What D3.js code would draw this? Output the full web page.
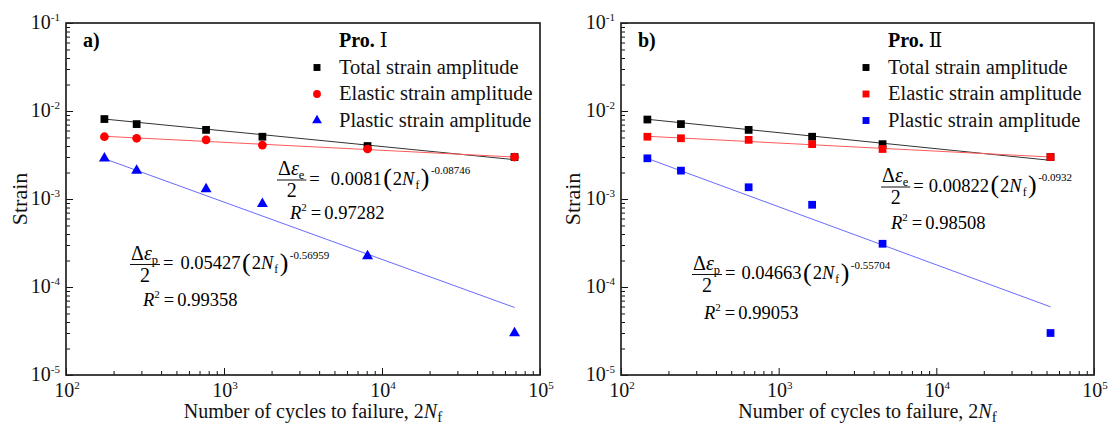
<!DOCTYPE html>
<html>
<head>
<meta charset="utf-8">
<script src="https://cdn.jsdelivr.net/npm/d3@7"></script>
<style>
  body { margin: 0; background: #fff; }
  svg { display: block; }
</style>
</head>
<body>
<svg id="chart" width="1110" height="428"></svg>
<script>
// ---- data: panel a) Pro. Ⅰ ----
const cyclesA  = [175, 280, 770, 1750, 8100, 69000];
const totalA   = [0.0081, 0.0071, 0.0061, 0.0051, 0.0040, 0.0030];
const elasticA = [0.0051, 0.0049, 0.0047, 0.0041, 0.0037, 0.0030];
const plasticA = [0.0029, 0.0021, 0.0013, 0.00088, 0.000225, 0.00003];

// ---- data: panel b) Pro. Ⅱ ----
const cyclesB  = [147, 240, 645, 1630, 4560, 53000];
const totalB   = [0.0080, 0.0071, 0.0061, 0.0051, 0.0042, 0.0030];
const elasticB = [0.0051, 0.0049, 0.0047, 0.0042, 0.0037, 0.0030];
const plasticB = [0.0029, 0.0021, 0.00136, 0.00086, 0.00031, 0.00003];

// fitted lines: strain at the first and the last cycle count
const fitTotalA   = [0.0081, 0.0028];
const fitElasticA = [0.00516, 0.0030];
const fitPlasticA = [0.00287, 0.0000585];
const fitTotalB   = [0.00805, 0.00275];
const fitElasticB = [0.00516, 0.0030];
const fitPlasticB = [0.00289, 0.0000595];

// fit equations: [elastic, plastic]
const eqCoefA = ["0.0081", "0.05427"];
const eqExpA  = ["-0.08746", "-0.56959"];
const eqR2A   = ["0.97282", "0.99358"];
const eqCoefB = ["0.00822", "0.04663"];
const eqExpB  = ["-0.0932", "-0.55704"];
const eqR2B   = ["0.98508", "0.99053"];

const seriesNames = ["Total strain amplitude", "Elastic strain amplitude", "Plastic strain amplitude"];
const panelTags   = ["a)", "b)"];
const panelTitles = ["Ⅰ", "Ⅱ"];
const xTickValues = [1e2, 1e3, 1e4, 1e5];
const yTickValues = [1e-5, 1e-4, 1e-3, 1e-2, 1e-1];
const xTitle = "Number of cycles to failure, ";
const yTitle = "Strain";

// ---- drawing ----
const SERIF = '"Liberation Serif", "Times New Roman", serif';
const svg = d3.select("#chart");
const plotTop = 23, plotBottom = 375;

const panels = [
  {
    left: 66, right: 540, tag: panelTags[0], title: panelTitles[0],
    cycles: cyclesA, series: [totalA, elasticA, plasticA],
    fits: [fitTotalA, fitElasticA, fitPlasticA],
    shapes: [d3.symbolSquare, d3.symbolCircle, d3.symbolTriangle],
    coef: eqCoefA, expo: eqExpA, r2: eqR2A,
    legendX: 317, eqE: {x: 277, bar: 180, rx: 290, ry: 218.5, gap: 11}, eqP: {x: 130, bar: 264.5, rx: 143, ry: 306, gap: 7},
    yTitleX: 27
  },
  {
    left: 621, right: 1094, tag: panelTags[1], title: panelTitles[1],
    cycles: cyclesB, series: [totalB, elasticB, plasticB],
    fits: [fitTotalB, fitElasticB, fitPlasticB],
    shapes: [d3.symbolSquare, d3.symbolSquare, d3.symbolSquare],
    coef: eqCoefB, expo: eqExpB, r2: eqR2B,
    legendX: 866, eqE: {x: 881, bar: 187, rx: 891, ry: 228.5, gap: 5}, eqP: {x: 692, bar: 274.5, rx: 704, ry: 318.5, gap: 6},
    yTitleX: 580
  }
];

const markerColors = ["#000000", "#ff0000", "#0000ff"];
const lineColors = ["#333333", "#ff5a5a", "#6a6aff"];
const symbolSize = s => s === d3.symbolTriangle ? 52 : s === d3.symbolCircle ? 60 : 60;

function sup10(sel, exp) {
  sel.append("tspan").text("10");
  sel.append("tspan").attr("font-size", 11).attr("dy", -8).text(exp);
}

function drawEquation(g, pos, sub, coef, expo, r2) {
  const num = g.append("text")
    .attr("x", pos.x + 1).attr("y", pos.bar - 5)
    .attr("font-family", SERIF).attr("font-size", 20);
  num.append("tspan").text("Δ");
  num.append("tspan").attr("font-style", "italic").text("ε");
  num.append("tspan").attr("font-size", 12.5).attr("dy", 4).text(sub);
  const w = num.node().getComputedTextLength() + 2;
  g.append("line")
    .attr("x1", pos.x).attr("x2", pos.x + w + 1)
    .attr("y1", pos.bar).attr("y2", pos.bar)
    .attr("stroke", "#111").attr("stroke-width", 1);
  g.append("text")
    .attr("x", pos.x + w / 2 + 0.5).attr("y", pos.bar + 17)
    .attr("text-anchor", "middle")
    .attr("font-family", SERIF).attr("font-size", 20).text("2");
  const eq = g.append("text")
    .attr("x", pos.x + w + 4).attr("y", pos.bar + 4.5)
    .attr("font-family", SERIF).attr("font-size", 18.5);
  eq.append("tspan").text("=");
  eq.append("tspan").attr("dx", pos.gap).text(coef);
  eq.append("tspan").attr("font-size", 26).attr("dx", 1.5).attr("dy", 1.5).text("(");
  eq.append("tspan").attr("dx", 1).attr("dy", -1.5).text("2");
  eq.append("tspan").attr("font-style", "italic").text("N");
  eq.append("tspan").attr("font-size", 11.5).attr("dx", 1).attr("dy", 4).text("f");
  eq.append("tspan").attr("font-size", 26).attr("dx", 1.5).attr("dy", -2.5).text(")");
  eq.append("tspan").attr("font-size", 11).attr("dx", 1.5).attr("dy", -12).text(expo);
  const rt = g.append("text")
    .attr("x", pos.rx).attr("y", pos.ry)
    .attr("font-family", SERIF).attr("font-size", 18.5);
  rt.append("tspan").attr("font-style", "italic").text("R");
  rt.append("tspan").attr("font-size", 11).attr("dy", -8).text("2");
  rt.append("tspan").attr("dy", 8).attr("dx", 4).text("=");
  rt.append("tspan").attr("dx", 3).text(r2);
}

panels.forEach(p => {
  const g = svg.append("g");
  const x = d3.scaleLog().domain([1e2, 1e5]).range([p.left, p.right]);
  const y = d3.scaleLog().domain([1e-5, 1e-1]).range([plotBottom, plotTop]);

  const xMinor = x.ticks().filter(v => !xTickValues.some(t => Math.abs(t - v) / t < 1e-9));
  const yMinor = y.ticks().filter(v => !yTickValues.some(t => Math.abs(t - v) / t < 1e-9));

  // inward ticks on the bottom and left axes
  const gx = g.append("g").attr("transform", `translate(0,${plotBottom})`);
  gx.append("g").call(d3.axisBottom(x).tickValues(xMinor).tickSize(-4).tickFormat(""));
  gx.append("g").call(d3.axisBottom(x).tickValues(xTickValues).tickSize(-7).tickFormat(""));
  const gy = g.append("g").attr("transform", `translate(${p.left},0)`);
  gy.append("g").call(d3.axisLeft(y).tickValues(yMinor).tickSize(-4).tickFormat(""));
  gy.append("g").call(d3.axisLeft(y).tickValues(yTickValues).tickSize(-7).tickFormat(""));
  g.selectAll(".domain").remove();
  g.selectAll(".tick line").attr("stroke", "#111").attr("stroke-width", 1);

  // tick labels as powers of ten
  xTickValues.forEach(v => {
    const t = g.append("text").attr("x", x(v) + 1).attr("y", plotBottom + 22)
      .attr("text-anchor", "middle").attr("font-family", SERIF).attr("font-size", 20).attr("fill", "#111");
    sup10(t, String(Math.round(Math.log10(v))));
  });
  yTickValues.forEach(v => {
    const t = g.append("text").attr("x", p.left - 6).attr("y", y(v) + 6)
      .attr("text-anchor", "end").attr("font-family", SERIF).attr("font-size", 20).attr("fill", "#111");
    sup10(t, String(Math.round(Math.log10(v))));
  });

  // frame
  g.append("rect").attr("x", p.left).attr("y", plotTop)
    .attr("width", p.right - p.left).attr("height", plotBottom - plotTop)
    .attr("fill", "none").attr("stroke", "#222").attr("stroke-width", 1.7);

  // axis titles
  const xt = g.append("text").attr("x", (p.left + p.right) / 2 + 10).attr("y", 418)
    .attr("text-anchor", "middle").attr("font-family", SERIF).attr("font-size", 20).attr("fill", "#111");
  xt.append("tspan").text(xTitle + "2");
  xt.append("tspan").attr("font-style", "italic").text("N");
  xt.append("tspan").attr("font-size", 15).attr("dy", 4).text("f");
  g.append("text").attr("transform", `translate(${p.yTitleX},${(plotTop + plotBottom) / 2}) rotate(-90)`)
    .attr("text-anchor", "middle").attr("font-family", SERIF).attr("font-size", 22).attr("fill", "#111")
    .text(yTitle);

  // fitted lines
  const xEnds = [p.cycles[0], p.cycles[p.cycles.length - 1]];
  p.fits.forEach((f, i) => {
    g.append("line")
      .attr("x1", x(xEnds[0])).attr("y1", y(f[0]))
      .attr("x2", x(xEnds[1])).attr("y2", y(f[1]))
      .attr("stroke", lineColors[i]).attr("stroke-width", 1);
  });

  // data markers
  p.series.forEach((s, i) => {
    g.append("g").selectAll("path").data(s).join("path")
      .attr("transform", (d, j) => `translate(${x(p.cycles[j])},${y(d)})`)
      .attr("d", d3.symbol(p.shapes[i], symbolSize(p.shapes[i])))
      .attr("fill", markerColors[i]);
  });

  // panel tag
  g.append("text").attr("x", p.left + 17).attr("y", 47)
    .attr("font-family", SERIF).attr("font-size", 20).attr("font-weight", "bold").text(p.tag);

  // legend
  const lt = g.append("text").attr("x", p.legendX + 22).attr("y", 47)
    .attr("font-family", SERIF).attr("font-size", 20);
  lt.append("tspan").attr("font-weight", "bold").text("Pro. ");
  lt.append("tspan").attr("font-family", '"DejaVu Serif", "Noto Sans CJK SC", serif').attr("font-size", 20).text(p.title);
  seriesNames.forEach((name, i) => {
    const by = 73.5 + i * 26.5;
    g.append("path")
      .attr("transform", `translate(${p.legendX},${by - 6})`)
      .attr("d", d3.symbol(p.shapes[i], symbolSize(p.shapes[i]) * 0.8))
      .attr("fill", markerColors[i]);
    g.append("text").attr("x", p.legendX + 22).attr("y", by)
      .attr("font-family", SERIF).attr("font-size", 20.5).attr("fill", "#111").text(name);
  });

  // fit equations
  drawEquation(g, p.eqE, "e", p.coef[0], p.expo[0], p.r2[0]);
  drawEquation(g, p.eqP, "p", p.coef[1], p.expo[1], p.r2[1]);
});
</script>
</body>
</html>
